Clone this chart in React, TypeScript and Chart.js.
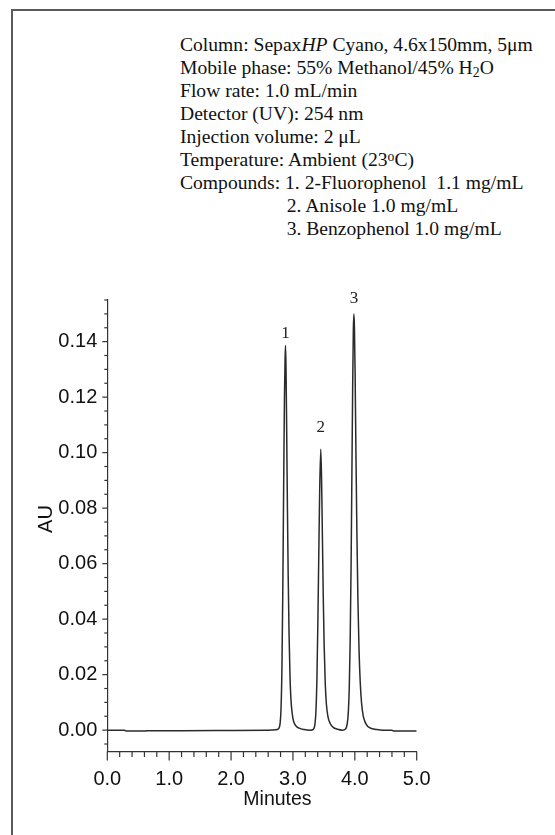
import React, { useEffect, useRef } from "react";
import { Chart, registerables } from "chart.js";

Chart.register(...registerables);

// ---- Data ----
const timeMin = [
  0.0, 0.28, 0.3, 0.45, 0.62, 0.64, 1.2, 2.0, 2.6, 2.72,
  2.77, 2.793, 2.808, 2.822, 2.836, 2.85, 2.863, 2.873, 2.88, 2.888,
  2.898, 2.91, 2.923, 2.937, 2.952, 2.968, 2.988, 3.01, 3.05, 3.1,
  3.18, 3.28, 3.33, 3.355, 3.372, 3.388, 3.403, 3.418, 3.432, 3.45,
  3.463, 3.476, 3.49, 3.505, 3.522, 3.54, 3.565, 3.6, 3.65, 3.72,
  3.8, 3.85, 3.875, 3.895, 3.91, 3.925, 3.94, 3.953, 3.965, 3.976,
  3.985, 3.994, 4.005, 4.018, 4.033, 4.05, 4.068, 4.088, 4.11, 4.135,
  4.17, 4.21, 4.27, 4.36, 4.45, 4.6, 4.63, 5.0,
];
const absorbanceAU = [
  0.0, 0.0, -0.0003, -0.0003, -0.0003, -0.0002, -0.0002, -0.0001, 0.0, 0.0001,
  0.0006, 0.0025, 0.008, 0.022, 0.05, 0.088, 0.12, 0.134, 0.1386, 0.131,
  0.11, 0.082, 0.056, 0.035, 0.02, 0.011, 0.006, 0.0032, 0.0015, 0.0007,
  0.0002, 0.0, 0.0003, 0.002, 0.007, 0.019, 0.039, 0.064, 0.086, 0.1012,
  0.09, 0.07, 0.048, 0.03, 0.017, 0.0095, 0.005, 0.0025, 0.001, 0.0003,
  0.0, 0.0004, 0.002, 0.0065, 0.015, 0.032, 0.06, 0.093, 0.123, 0.144,
  0.15, 0.145, 0.128, 0.1, 0.072, 0.047, 0.029, 0.017, 0.0095, 0.0052,
  0.0027, 0.0013, 0.0006, 0.0002, 0.0, 0.0, -0.0003, -0.0003,
];

const peakNumbers = ["1", "2", "3"];
const peakTimes = [2.88, 3.45, 3.985];
const peakLabelAU = [0.143, 0.109, 0.1556];

const xMajorTicks = [0, 1, 2, 3, 4, 5];
const yMajorTicks = [0, 0.02, 0.04, 0.06, 0.08, 0.1, 0.12, 0.14];

const xAxisTitle = "Minutes";
const yAxisTitle = "AU";

const SANS = "'Liberation Sans', Arial, sans-serif";
const SERIF = "'Liberation Serif', 'Times New Roman', serif";
const AXIS_COLOR = "#333";
const TICK_FONT = 20;

const isMajor = (v: number, majors: number[]) =>
  majors.some((m) => Math.abs(m - v) < 1e-6);

const customDraw = {
  id: "customDraw",
  afterDraw(chart: any) {
    const { ctx, chartArea } = chart;
    const xs = chart.scales.x;
    const ys = chart.scales.y;
    ctx.save();
    ctx.strokeStyle = AXIS_COLOR;
    ctx.lineWidth = 1.2;
    // x tick marks
    xs.ticks.forEach((t: any) => {
      const px = xs.getPixelForValue(t.value);
      const len = isMajor(t.value, xMajorTicks) ? 9 : 5.5;
      ctx.beginPath();
      ctx.moveTo(px, chartArea.bottom);
      ctx.lineTo(px, chartArea.bottom + len);
      ctx.stroke();
    });
    // y tick marks
    ys.ticks.forEach((t: any) => {
      const py = ys.getPixelForValue(t.value);
      const len = isMajor(t.value, yMajorTicks) ? 5 : 3;
      ctx.beginPath();
      ctx.moveTo(chartArea.left, py);
      ctx.lineTo(chartArea.left - len, py);
      ctx.stroke();
    });
    // axis titles
    ctx.fillStyle = "#111";
    ctx.font = `19.5px ${SANS}`;
    ctx.textAlign = "center";
    ctx.textBaseline = "middle";
    ctx.fillText(xAxisTitle, xs.getPixelForValue(2.75), 800);
    ctx.save();
    ctx.translate(46, 519);
    ctx.rotate(-Math.PI / 2);
    ctx.font = `20px ${SANS}`;
    ctx.fillText(yAxisTitle, 0, 0);
    ctx.restore();
    // peak labels
    ctx.font = `17px ${SERIF}`;
    ctx.fillStyle = "#222";
    peakNumbers.forEach((n, i) => {
      ctx.fillText(n, xs.getPixelForValue(peakTimes[i]), ys.getPixelForValue(peakLabelAU[i]));
    });
    ctx.restore();
  },
};

function ChromChart() {
  const ref = useRef<HTMLCanvasElement | null>(null);
  useEffect(() => {
    if (!ref.current) return;
    const data = timeMin.map((t, i) => ({ x: t, y: absorbanceAU[i] }));
    const chart = new Chart(ref.current, {
      type: "line",
      data: {
        datasets: [
          {
            data,
            borderColor: "#2a2a2a",
            borderWidth: 1.5,
            pointRadius: 0,
            cubicInterpolationMode: "monotone",
            fill: false,
          },
        ],
      },
      options: {
        animation: false,
        responsive: true,
        maintainAspectRatio: false,
        layout: { padding: { left: 0, right: 138.3, top: 300, bottom: 0 } },
        plugins: { legend: { display: false }, tooltip: { enabled: false } },
        scales: {
          x: {
            type: "linear",
            min: 0,
            max: 5,
            afterFit: (s: any) => {
              s.height = 83.5;
            },
            grid: { display: false, drawTicks: true, tickLength: 9 },
            border: { display: true, color: AXIS_COLOR, width: 1.2 },
            ticks: {
              stepSize: 0.2,
              autoSkip: false,
              maxRotation: 0,
              includeBounds: false,
              padding: 7,
              color: "#111",
              font: { family: SANS, size: TICK_FONT },
              callback: (v: any) => (isMajor(Number(v), xMajorTicks) ? Number(v).toFixed(1) : ""),
            },
          },
          y: {
            type: "linear",
            min: -0.0077,
            max: 0.155,
            afterFit: (s: any) => {
              s.width = 107.3;
            },
            grid: { display: false, drawTicks: true, tickLength: 5 },
            border: { display: true, color: AXIS_COLOR, width: 1.2 },
            ticks: {
              stepSize: 0.005,
              autoSkip: false,
              includeBounds: false,
              padding: 5,
              color: "#111",
              font: { family: SANS, size: TICK_FONT },
              callback: (v: any) => (isMajor(Number(v), yMajorTicks) ? Number(v).toFixed(2) : ""),
            },
          },
        },
      },
      plugins: [customDraw],
    } as any);
    return () => chart.destroy();
  }, []);
  return <canvas ref={ref} />;
}

const infoLines: React.ReactNode[] = [
  <>Column: Sepax<i>HP</i> Cyano, 4.6x150mm, 5μm</>,
  <>Mobile phase: 55% Methanol/45% H<sub style={{ fontSize: "0.7em", verticalAlign: "-0.25em", lineHeight: 0 }}>2</sub>O</>,
  <>Flow rate: 1.0 mL/min</>,
  <>Detector (UV): 254 nm</>,
  <>Injection volume: 2 μL</>,
  <>Temperature: Ambient (23<sup style={{ fontSize: "0.7em", verticalAlign: "0.35em", lineHeight: 0 }}>o</sup>C)</>,
  <>Compounds: 1. 2-Fluorophenol  1.1 mg/mL</>,
];
const compoundLines = ["2. Anisole 1.0 mg/mL", "3. Benzophenol 1.0 mg/mL"];

export default function App() {
  return (
    <div style={{ position: "fixed", left: 0, top: 0, width: 555, height: 835, background: "#fff", overflow: "hidden" }}>
      <div
        style={{
          position: "absolute",
          left: 11,
          top: 9,
          width: 600,
          height: 900,
          borderTop: "2px solid #5a5a5a",
          borderLeft: "2px solid #5a5a5a",
        }}
      />
      <div
        style={{
          position: "absolute",
          left: 180,
          top: 33,
          fontFamily: SERIF,
          fontSize: 19.6,
          lineHeight: "23px",
          color: "#111",
          whiteSpace: "pre",
        }}
      >
        {infoLines.map((l, i) => (
          <div key={i}>{l}</div>
        ))}
        {compoundLines.map((l, i) => (
          <div key={"c" + i} style={{ paddingLeft: 106.7 }}>
            {l}
          </div>
        ))}
      </div>
      <div style={{ position: "absolute", left: 0, top: 0, width: 555, height: 835 }}>
        <ChromChart />
      </div>
    </div>
  );
}
